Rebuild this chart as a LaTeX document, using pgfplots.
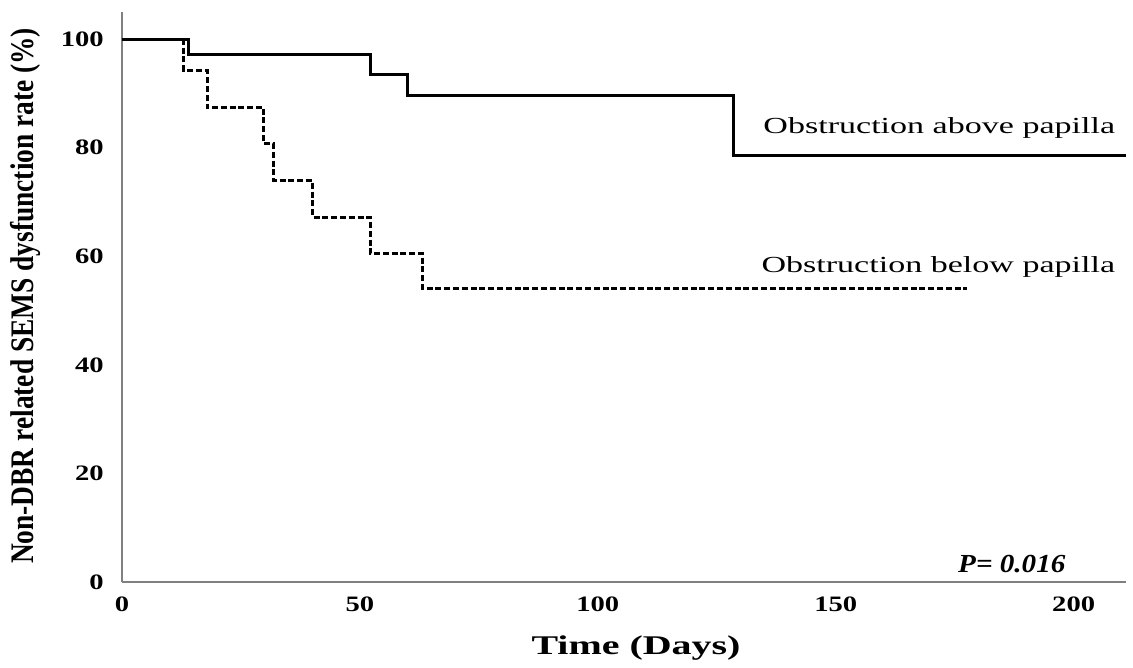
\documentclass[border=0pt]{standalone}
\usepackage{pgfplots}
\pgfplotsset{compat=1.18}
\usepackage{fontspec}
\setmainfont{Liberation Serif}
\begin{document}
\begin{tikzpicture}
\begin{axis}[
  scale only axis,
  width=502pt, height=285pt,
  xmin=0, xmax=211, ymin=0, ymax=105,
  axis x line*=bottom, axis y line*=left,
  axis line style={gray, line width=0.8pt},
  xtick={0,50,100,150,200}, ytick={0,20,40,60,80,100},
  major tick length=0pt,
  /pgf/number format/assume math mode=true,
  ticklabel style={font=\fontsize{11}{13}\selectfont\bfseries, xscale=1.3},
  xticklabel style={yshift=-4pt},
  yticklabel style={xshift=-3.5pt},
  clip=false,
  every axis x label/.style={at={(axis description cs:0.512,-0.116)}, anchor=center},
  every axis y label/.style={at={(axis description cs:-0.096,0.502)}, anchor=center, rotate=90},
  xlabel={\scalebox{1.48}[1]{\fontsize{13.5}{15}\selectfont\bfseries Time (Days)}},
  ylabel={\scalebox{1}[1.2]{\fontsize{13.7}{15}\selectfont\bfseries Non-DBR related SEMS dysfunction rate (\%)}},
]
\addplot[const plot, black, line width=1.5pt] coordinates {
(0,100) (14,97.2) (52.2,93.4) (60,89.6) (128.5,78.5) (211,78.5)};
\addplot[const plot, black, line width=1.5pt, dash pattern=on 3pt off 1.4pt] coordinates {
(0,100) (13,94.2) (17.9,87.4) (29.8,80.8) (31.8,73.9) (40.1,67.2) (52.2,60.5) (63.2,54.0) (177.5,54.0)};
\node[anchor=east] at (axis cs:210.2,83.6) {\scalebox{1.48}[1]{\fontsize{11.5}{13}\selectfont Obstruction above papilla}};
\node[anchor=east] at (axis cs:210.2,58.0) {\scalebox{1.48}[1]{\fontsize{11.5}{13}\selectfont Obstruction below papilla}};
\node[anchor=center] at (axis cs:187,3.4) {\scalebox{1.12}[1]{\fontsize{13}{15}\selectfont\bfseries\itshape P= 0.016}};
\end{axis}
\path ([shift={(-61pt,-42pt)}]current axis.south west) rectangle ([shift={(3.5pt,6pt)}]current axis.north east);
\end{tikzpicture}
\end{document}
